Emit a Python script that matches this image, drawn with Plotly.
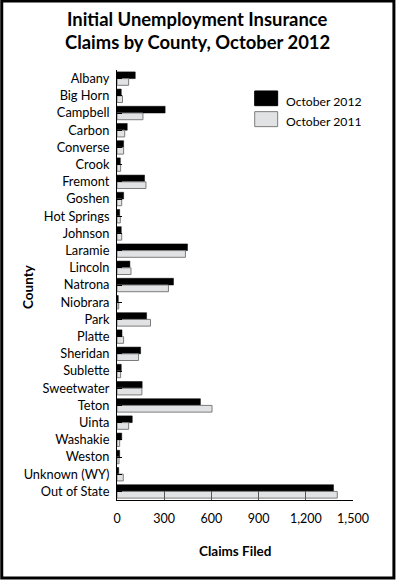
import plotly.graph_objects as go

counties = ["Albany", "Big Horn", "Campbell", "Carbon", "Converse", "Crook", "Fremont",
            "Goshen", "Hot Springs", "Johnson", "Laramie", "Lincoln", "Natrona", "Niobrara",
            "Park", "Platte", "Sheridan", "Sublette", "Sweetwater", "Teton", "Uinta",
            "Washakie", "Weston", "Unknown (WY)", "Out of State"]
oct_2012 = [116, 27, 306, 65, 42, 21, 175, 42, 17, 27, 448, 82, 359, 8, 188, 32, 150, 27,
            160, 530, 97, 30, 17, 11, 1376]
oct_2011 = [74, 35, 165, 49, 42, 23, 184, 30, 21, 30, 435, 89, 327, 11, 213, 42, 137, 23,
            158, 604, 74, 17, 13, 40, 1400]
x_ticks = [0, 300, 600, 900, 1200, 1500]
x_tick_text = ["0", "300", "600", "900", "1,200", "1,500"]

W, H = 396, 581
ML, MR, MT, MB = 117, 42.5, 70, 80.5
PW, PH = W - ML - MR, H - MT - MB

def px(x):
    return (x - ML) / PW

def py(y):
    return (H - MB - y) / PH

FONT = "Lato"

fig = go.Figure()
fig.add_trace(go.Bar(y=counties, x=oct_2012, orientation="h", name="October 2012",
                     marker=dict(color="#000000", line=dict(color="#000000", width=0.5))))
fig.add_trace(go.Bar(y=counties, x=oct_2011, orientation="h", name="October 2011",
                     marker=dict(color="#e1e2e4", line=dict(color="#7c7c7c", width=1))))

shapes = [
    dict(type="rect", xref="paper", yref="paper", x0=px(1.5), x1=px(394.5), y0=py(1), y1=py(578.5),
         line=dict(color="#000", width=3), fillcolor="rgba(0,0,0,0)", layer="above"),
    dict(type="rect", xref="paper", yref="paper", x0=px(255), x1=px(278), y0=py(105.7), y1=py(91),
         line=dict(color="#000", width=1), fillcolor="#000"),
    dict(type="rect", xref="paper", yref="paper", x0=px(255), x1=px(278), y0=py(126.7), y1=py(111.7),
         line=dict(color="#7c7c7c", width=1), fillcolor="#e1e2e4"),
]
annotations = [
    dict(text="<b>Initial Unemployment Insurance</b>", xref="paper", yref="paper", x=px(198), y=py(18.5),
         xanchor="center", yanchor="middle", showarrow=False, font=dict(family=FONT, size=18.4, color="#000")),
    dict(text="<b>Claims by County, October 2012</b>", xref="paper", yref="paper", x=px(198), y=py(41.5),
         xanchor="center", yanchor="middle", showarrow=False, font=dict(family=FONT, size=18.4, color="#000")),
    dict(text="October 2012", xref="paper", yref="paper", x=px(284), y=py(101.7), xanchor="left",
         yanchor="middle", showarrow=False, font=dict(family=FONT, size=12.2, color="#000")),
    dict(text="October 2011", xref="paper", yref="paper", x=px(284), y=py(121.7), xanchor="left",
         yanchor="middle", showarrow=False, font=dict(family=FONT, size=12.2, color="#000")),
    dict(text="<b>County</b>", xref="paper", yref="paper", x=px(28), y=py(287), textangle=-90,
         xanchor="center", yanchor="middle", showarrow=False, font=dict(family=FONT, size=13.5, color="#000")),
    dict(text="<b>Claims Filed</b>", xref="paper", yref="paper", x=px(235), y=py(551.5),
         xanchor="center", yanchor="middle", showarrow=False, font=dict(family=FONT, size=13.5, color="#000")),
]

fig.update_layout(
    width=W, height=H,
    margin=dict(l=ML, r=MR, t=MT, b=MB, pad=0),
    paper_bgcolor="white", plot_bgcolor="white",
    barmode="group", bargap=0.22, bargroupgap=0,
    showlegend=False,
    font=dict(family=FONT, size=12.5, color="#000"),
    shapes=shapes, annotations=annotations,
)
fig.update_xaxes(range=[0, 1500], tickvals=x_ticks, ticktext=x_tick_text, showgrid=False,
                 zeroline=False, showline=True, linecolor="#000", linewidth=1, mirror=False,
                 ticks="inside", ticklen=9, tickcolor="#555", tickwidth=1,
                 ticklabelstandoff=7, tickfont=dict(family=FONT, size=12.5, color="#000"))
fig.update_yaxes(autorange="reversed", showgrid=False, zeroline=False, showline=True,
                 linecolor="#000", linewidth=1, ticks="inside", ticklen=5, tickcolor="#000",
                 ticklabelstandoff=4, tickfont=dict(family=FONT, size=12.8, color="#000"))

fig.write_html("out.html")
